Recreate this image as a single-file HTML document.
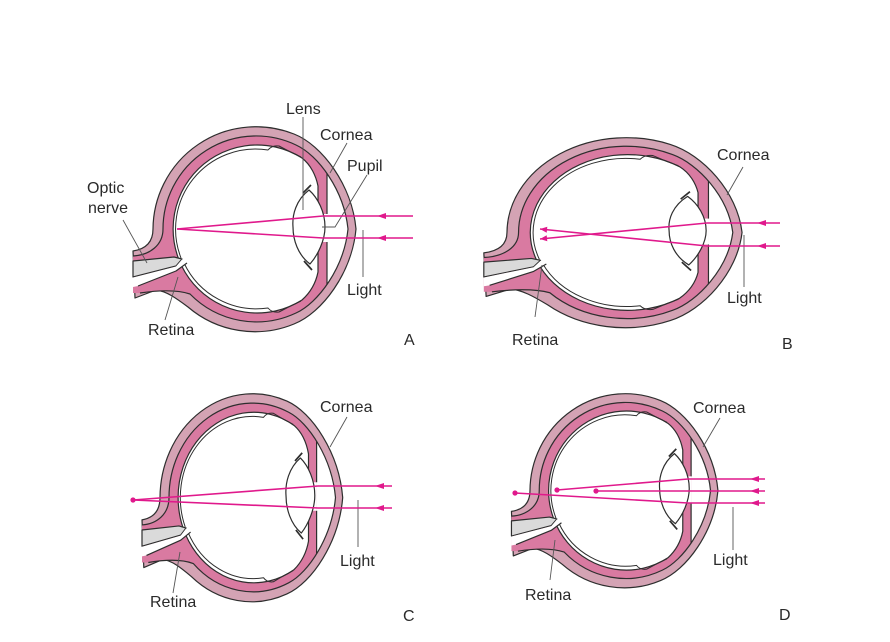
<!DOCTYPE html>
<html><head><meta charset="utf-8"><style>
html,body{margin:0;padding:0;background:#fff;}
svg{display:block;}
text{font-family:"Liberation Sans",Arial,sans-serif;font-size:16px;fill:#2a2a2a;}
</style></head><body>
<svg width="890" height="642" viewBox="0 0 890 642" xmlns="http://www.w3.org/2000/svg">
<defs>
<clipPath id="cpIn" clipPathUnits="userSpaceOnUse">
<path d="M133,256 C150,255 163,245 163,229 A93,93 0 0 1 296,145 C318,155 344,190 348,229 C344,268 318,303 296,313 A93,93 0 0 1 190,294 C178,290 160,290 140,293 L133,293 Z"/>
</clipPath>
<g id="eye" stroke="#2e2e2e" stroke-width="1.2" stroke-linejoin="round">
 <path vector-effect="non-scaling-stroke" fill="#d4a3b4" d="M133,251 C146,249 153,242 153,229 A103,103 0 0 1 294,134 C322,145 352,185 356,229 C352,273 322,313 294,324 A103,103 0 0 1 188,307 C176,298 166,291 156,290 L135,298 Z"/>
 <path fill="#d97aa1" stroke="none" d="M133,256 C150,255 163,245 163,229 A93,93 0 0 1 296,145 C318,155 344,190 348,229 C344,268 318,303 296,313 A93,93 0 0 1 190,294 C178,290 160,290 140,293 L133,293 Z"/>
 <rect x="327" y="120" width="45" height="220" fill="#fff" stroke="none" clip-path="url(#cpIn)"/>
 <path vector-effect="non-scaling-stroke" fill="none" d="M133,256 C150,255 163,245 163,229 A93,93 0 0 1 296,145 C318,155 344,190 348,229 C344,268 318,303 296,313 A93,93 0 0 1 190,294 C178,290 160,290 140,293"/>
 <path vector-effect="non-scaling-stroke" fill="none" d="M327,173.5 L327,214 M327,242 L327,284.5"/>
 <rect x="318" y="214" width="9" height="28" fill="#fff" stroke="none"/>
 <path vector-effect="non-scaling-stroke" fill="#fff" d="M302,158 A84,84 0 1 0 302,300 C311,292 316,282 318,272 L318,186 C316,176 311,165 302,158 Z"/>
 <path vector-effect="non-scaling-stroke" fill="none" stroke-width="1" d="M181,258 A80,80 0 0 1 268,150 Q272,145 279,146 Q290,152 301,157 M184,263 A80,80 0 0 0 268,308 Q272,313 279,312 Q290,306 301,301"/>
 <path vector-effect="non-scaling-stroke" fill="#dadada" d="M133,261 L174,257 L182,259 L176,266 L133,277 Z"/>
 <path fill="#fff" stroke="none" d="M133,277.5 L176,266.5 L182,259.5 L187,263 L176,271 L138,286 L133,287 Z"/>
 <path vector-effect="non-scaling-stroke" fill="none" d="M138,286 L176,271 L187,263"/>
 <path vector-effect="non-scaling-stroke" fill="#fff" d="M309,190 C296,200 292,215 293,227 C293,240 298,255 310,264 C318,255 325,240 325,227 C325,212 318,198 309,190 Z"/>
 <path vector-effect="non-scaling-stroke" fill="none" stroke-width="1.7" d="M303,193 L311,185 M304,261 L312,270"/>
</g>
</defs>

<use href="#eye"/>
<use href="#eye" transform="matrix(1.158 0 0 0.927 329.8 20.2)"/>
<use href="#eye" transform="matrix(0.9 0 0 1.015 22.3 265.1)"/>
<use href="#eye" transform="matrix(0.926 0 0 0.947 388.3 273.7)"/>

<!-- leader lines -->
<g stroke="#555" stroke-width="0.9" fill="none">
 <path d="M303,117 L303,210"/>
 <path d="M347,143 L330,173"/>
 <path d="M367,175 L335,227 L322,227"/>
 <path d="M123,220 L147,263"/>
 <path d="M178,277 L165,320"/>
 <path d="M363,230 L363,277"/>
 <path d="M743,167 L727,195"/>
 <path d="M744,235 L744,287"/>
 <path d="M542,265 L535,317"/>
 <path d="M347,417 L330,447"/>
 <path d="M358,500 L358,547"/>
 <path d="M180,552 L173,593"/>
 <path d="M720,418 L703,447"/>
 <path d="M733,507 L733,550"/>
 <path d="M555,540 L550,580"/>
</g>

<!-- rays -->
<g stroke="#e0198c" stroke-width="1.6" fill="none">
 <polyline points="413,216 323,216 177,229"/>
 <polyline points="413,238 323,238 177,229"/>
 <polyline points="780,223 707,223 540,239"/>
 <polyline points="780,246 707,246 540,229"/>
 <polyline points="392,486 318,486 133,500"/>
 <polyline points="392,508 318,508 133,500"/>
 <polyline points="765,479 688,479 557,490"/>
 <polyline points="765,491 596,491"/>
 <polyline points="765,503 688,503 515,493"/>
</g>
<g fill="#e0198c">
 <polygon points="377,216 386,213 386,219"/>
 <polygon points="377,238 386,235 386,241"/>
 <polygon points="757,223 766,220 766,226"/>
 <polygon points="757,246 766,243 766,249"/>
 <polygon points="540,239 547.3,241.3 546.7,235.3"/>
 <polygon points="540,229 546.7,232.7 547.3,226.7"/>
 <polygon points="375,486 384,483 384,489"/>
 <polygon points="375,508 384,505 384,511"/>
 <circle cx="133" cy="500" r="2.6"/>
 <polygon points="750,479 759,476 759,482"/>
 <polygon points="750,491 759,488 759,494"/>
 <polygon points="750,503 759,500 759,506"/>
 <circle cx="557" cy="490" r="2.6"/>
 <circle cx="596" cy="491" r="2.6"/>
 <circle cx="515" cy="493" r="2.6"/>
</g>

<!-- labels -->
<text x="286" y="114">Lens</text>
<text x="320" y="140">Cornea</text>
<text x="347" y="171">Pupil</text>
<text x="87" y="193">Optic</text>
<text x="88" y="213">nerve</text>
<text x="148" y="335">Retina</text>
<text x="347" y="295">Light</text>
<text x="404" y="345">A</text>

<text x="717" y="160">Cornea</text>
<text x="727" y="303">Light</text>
<text x="512" y="345">Retina</text>
<text x="782" y="349">B</text>

<text x="320" y="412">Cornea</text>
<text x="340" y="566">Light</text>
<text x="150" y="607">Retina</text>
<text x="403" y="621">C</text>

<text x="693" y="413">Cornea</text>
<text x="713" y="565">Light</text>
<text x="525" y="600">Retina</text>
<text x="779" y="620">D</text>
</svg>
</body></html>
